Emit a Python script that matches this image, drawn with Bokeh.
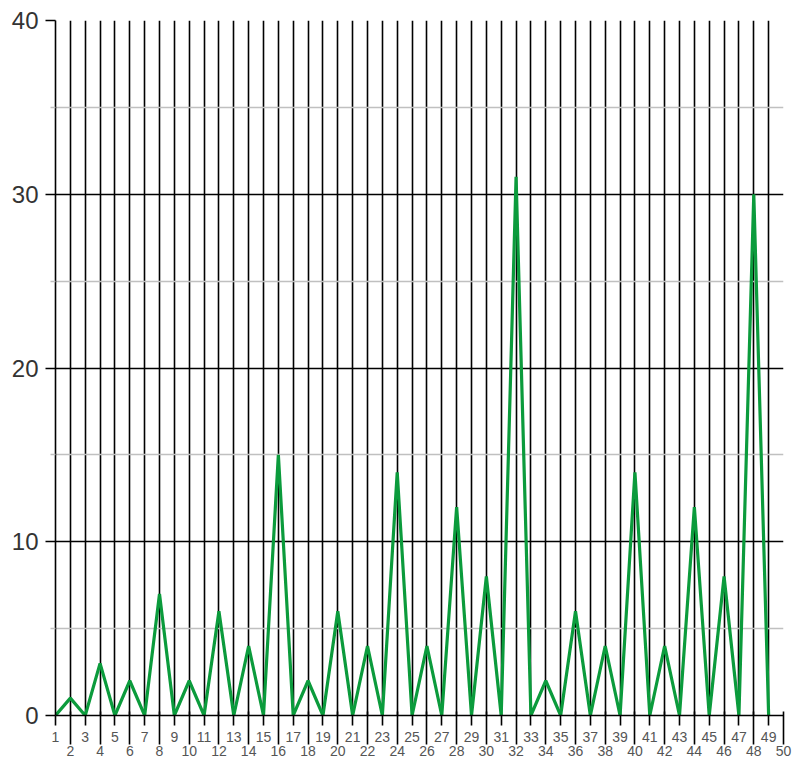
from bokeh.plotting import figure
from bokeh.models import FixedTicker, LinearAxis, Range1d, Grid
from bokeh.embed import file_html
from bokeh.resources import INLINE

x_values = list(range(1, 50))
y_values = [0, 1, 0, 3, 0, 2, 0, 7, 0, 2, 0, 6, 0, 4, 0, 15, 0, 2, 0, 6,
            0, 4, 0, 14, 0, 4, 0, 12, 0, 8, 0, 31, 0, 2, 0, 6, 0, 4, 0, 14,
            0, 4, 0, 12, 0, 8, 0, 30, 0]
odd_ticks = list(range(1, 51, 2))
even_ticks = list(range(2, 51, 2))
y_major = [0, 10, 20, 30, 40]
y_minor = [5, 15, 25, 35]

p = figure(width=793, height=764, output_backend="svg", toolbar_location=None,
           x_range=Range1d(1, 50), y_range=Range1d(0, 40),
           min_border_left=55, min_border_right=10, min_border_top=20,
           min_border_bottom=49, x_axis_location=None)
p.outline_line_color = None
p.xgrid.visible = False
p.ygrid.visible = False

vg = Grid(dimension=0, ticker=FixedTicker(ticks=list(range(1, 51))),
          grid_line_color="black", grid_line_width=1.6)
p.add_layout(vg)
hg_minor = Grid(dimension=1, ticker=FixedTicker(ticks=y_minor),
                grid_line_color="#c0c0c0", grid_line_width=1.5)
p.add_layout(hg_minor)
hg = Grid(dimension=1, ticker=FixedTicker(ticks=y_major),
          grid_line_color="black", grid_line_width=1.6)
p.add_layout(hg)

ya = p.yaxis[0]
ya.ticker = FixedTicker(ticks=y_major, minor_ticks=y_minor)
ya.axis_line_color = "black"
ya.axis_line_width = 1.6
ya.major_tick_out = 10
ya.major_tick_in = 0
ya.major_tick_line_width = 1.6
ya.minor_tick_out = 5
ya.minor_tick_in = 0
ya.minor_tick_line_color = "#c0c0c0"
ya.minor_tick_line_width = 1.5
ya.major_label_text_font = "Liberation Sans"
ya.major_label_text_font_size = "24px"
ya.major_label_text_color = "#333333"
ya.major_label_standoff = 7

xa = LinearAxis(ticker=FixedTicker(ticks=odd_ticks))
xa.axis_line_color = "black"
xa.axis_line_width = 1.6
xa.major_tick_out = 10
xa.major_tick_in = 0
xa.major_tick_line_width = 1.6
xa.minor_tick_line_color = None
xa.major_label_text_font = "Liberation Sans"
xa.major_label_text_font_size = "14px"
xa.major_label_text_color = "#555555"
xa.major_label_standoff = 6
p.add_layout(xa, "below")

xb = LinearAxis(ticker=FixedTicker(ticks=even_ticks))
xb.axis_line_color = None
xb.major_tick_line_color = "black"
xb.major_tick_line_width = 1.6
xb.major_tick_in = 33
xb.major_tick_out = 0
xb.minor_tick_line_color = None
xb.major_label_text_font = "Liberation Sans"
xb.major_label_text_font_size = "14px"
xb.major_label_text_color = "#555555"
xb.major_label_standoff = 1
p.add_layout(xb, "below")

p.line(x_values, y_values, line_color="#0b9b3c", line_width=3.2)

open("out.html", "w").write(file_html(p, INLINE))
